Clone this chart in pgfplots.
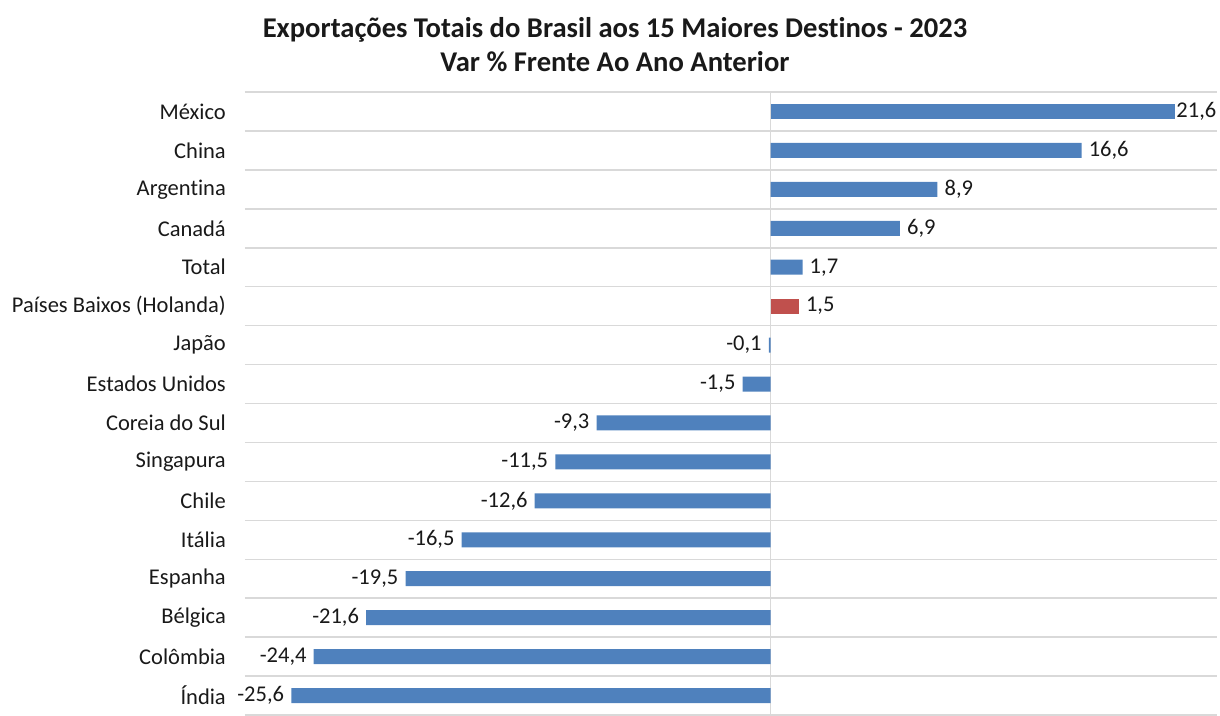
\documentclass[border=0pt]{standalone}
\usepackage{pgfplots}
\pgfplotsset{compat=1.18}
\usepackage{pgfplotstable}
\usepackage{fontspec}
\setmainfont{Carlito}[Ligatures=NoCommon]
\definecolor{barblue}{RGB}{79,129,189}
\definecolor{barred}{RGB}{192,80,77}
\definecolor{gridgray}{RGB}{217,217,217}

% position (0 = top) and variation in %
\pgfplotstableread{
idx val
1 16.6
2 8.9
3 6.9
4 1.7
6 -0.1
7 -1.5
8 -9.3
9 -11.5
10 -12.6
11 -16.5
12 -19.5
13 -21.6
14 -24.4
15 -25.6
}\bluedata

\begin{document}
\begin{tikzpicture}
\begin{axis}[
    at={(0pt,0pt)}, anchor=south west,
    scale only axis,
    width=972pt, height=623pt,
    xbar, bar width=15pt,
    xmin=-28.07, xmax=23.83,
    ymin=-0.5, ymax=15.5, y dir=reverse,
    ytick={0,...,15},
    yticklabels={México, China, Argentina, Canadá, Total, Países Baixos (Holanda), Japão, Estados Unidos, Coreia do Sul, Singapura, Chile, Itália, Espanha, Bélgica, Colômbia, Índia},
    xtick=\empty,
    extra x ticks={0}, extra x tick labels={},
    extra x tick style={grid=major, major grid style={gridgray, line width=1.5pt}},
    minor ytick={-0.5,0.5,...,15.5},
    yminorgrids,
    minor grid style={gridgray, line width=1.5pt},
    axis line style={draw=none},
    major tick length=0pt, minor tick length=0pt,
    tick label style={font=\fontsize{22.5}{24}\selectfont, text=black!90},
    yticklabel style={inner xsep=0pt, xshift=-19pt},
    nodes near coords, nodes near coords align=horizontal,
    every node near coord/.append style={font=\fontsize{22.5}{24}\selectfont, text=black!90, inner xsep=7pt},
    point meta=x,
    /pgf/number format/use comma,
    /pgf/number format/fixed,
    /pgf/number format/fixed zerofill,
    /pgf/number format/precision=1,
    /pgf/number format/assume math mode=true,
]
\addplot[fill=barblue, draw=none, bar shift=0pt] table[x=val, y=idx] {\bluedata};
\addplot[fill=barblue, draw=none, bar shift=0pt,
    every node near coord/.append style={xshift=-6pt}] coordinates {(21.6,0)};
\addplot[fill=barred, draw=none, bar shift=0pt] coordinates {(1.5,5)};
\end{axis}
\node[align=center, font=\bfseries\fontsize{28.6}{34}\selectfont, text=black!90]
    at (370pt,670pt) {Exportações Totais do Brasil aos 15 Maiores Destinos - 2023\\Var \% Frente Ao Ano Anterior};
\pgfresetboundingbox
\useasboundingbox (-245pt,0pt) rectangle (975pt,715pt);
\end{tikzpicture}
\end{document}
